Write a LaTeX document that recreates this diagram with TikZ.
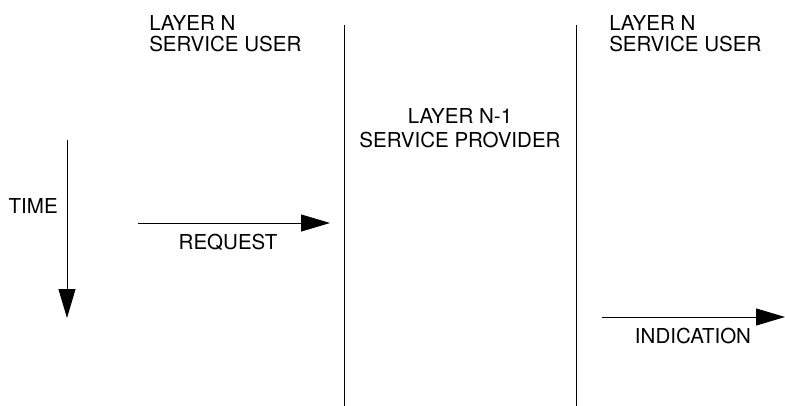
\documentclass[tikz,border=0pt]{standalone}
\usepackage{fontspec}
\setmainfont{TeX Gyre Heros}
\usetikzlibrary{arrows.meta}

\begin{document}
\begin{tikzpicture}[x=0.75pt,y=0.75pt,yscale=-1,xscale=1,
  lbl/.style={inner sep=0pt,font=\fontsize{15.4}{15.75}\selectfont},
  flow/.style={line width=0.75pt,-{Triangle[length=21.75pt,width=12.75pt]}}]
\useasboundingbox (0,0) rectangle (785,406);

%Coordinates: ends of lines and arrows
\coordinate (lineA top) at (344,25);
\coordinate (lineA bot) at (344,406);
\coordinate (lineB top) at (576,25);
\coordinate (lineB bot) at (576,406);
\coordinate (time start) at (67,140);
\coordinate (time end) at (67,318);
\coordinate (req start) at (138,223);
\coordinate (req end) at (330,223);
\coordinate (ind start) at (602,317);
\coordinate (ind end) at (785,317);

%Straight Lines: boundaries of the provider
\draw [line width=0.75pt] (lineA top) -- (lineA bot) ;
\draw [line width=0.75pt] (lineB top) -- (lineB bot) ;

%Arrows
\draw [flow] (time start) -- (time end) ;
\draw [flow] (req start) -- (req end) ;
\draw [flow] (ind start) -- (ind end) ;

% Text Node
\node (user left) [lbl,anchor=north west,align=left] at (149,15) {LAYER N\\SERVICE USER};
% Text Node
\node (user right) [lbl,anchor=north west,align=left] at (609,15) {LAYER N\\SERVICE USER};
% Text Node
\node (provider) [lbl,anchor=north,align=center,font=\fontsize{15.4}{18}\selectfont] at (460,108) {LAYER N-1\\SERVICE PROVIDER};
% Text Node
\node (time) [lbl,anchor=base east] at (58,214) {TIME};
% Text Node
\node (request) [lbl,anchor=base] at (228,249) {REQUEST};
% Text Node
\node (indication) [lbl,anchor=base] at (693,343) {INDICATION};

\end{tikzpicture}
\end{document}
